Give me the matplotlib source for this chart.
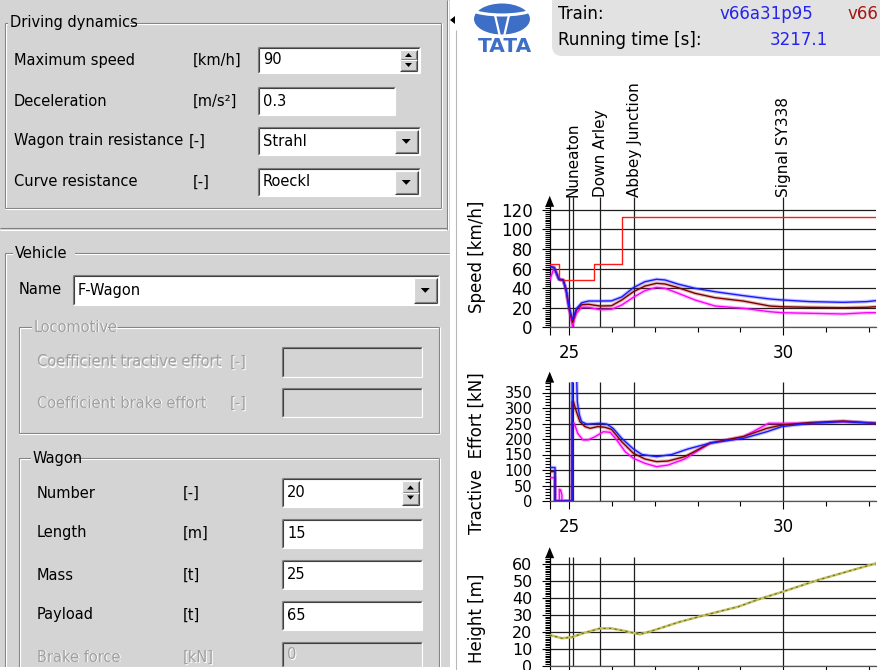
import matplotlib
matplotlib.use('Agg')
import matplotlib.pyplot as plt
from matplotlib.patches import Rectangle, Polygon, Ellipse, Arc, FancyBboxPatch
from matplotlib.ticker import MultipleLocator

plt.rcParams['font.family'] = ['DejaVu Sans']

W, H = 880, 670
GRAY = '#d4d4d4'
DARK = '#808080'
DIS = '#a0a0a0'

# route / stations [km]
stations_km = [25.0, 25.08, 25.71, 26.51, 30.0]
station_names = ['Nuneaton', 'Down Arley', 'Abbey Junction', 'Signal SY338']
station_name_km = [25.09, 25.73, 26.53, 30.0]
XMIN, XMAX = 24.545, 32.17

# speed [km/h]
limit_km = [24.545, 24.76, 25.58, 26.24, 32.17]
limit_kmh = [64.4, 48.3, 64.4, 112.7, 112.7]

speed_km = [24.545, 24.65, 24.76, 24.86, 24.93, 25.00, 25.08, 25.12, 25.17, 25.29,
            25.45, 25.72, 25.99, 26.23, 26.50, 26.77, 27.04, 27.24, 27.55, 27.94,
            28.41, 29.07, 29.69, 29.97, 30.63, 31.40, 31.95, 32.17]
speed_blue = [62.5, 60.8, 49.0, 48.3, 38, 20, 8, 13, 19, 25.0,
              26.8, 26.8, 27.0, 31.0, 40.4, 46.5, 49.0, 48.3, 44.0, 39.8,
              36.3, 32.3, 28.9, 27.9, 26.2, 25.5, 26.2, 27.2]
speed_brown = [62.5, 60.8, 49.0, 48.3, 38, 19, 5, 11, 17.7, 23.0,
               23.5, 21.7, 22.0, 27.9, 36.3, 42.1, 44.9, 44.2, 40.4, 34.7,
               30.2, 26.8, 21.7, 21.0, 20.4, 20.0, 20.4, 21.0]
speed_magenta = [48.0, 61.0, 49.0, 48.3, 37, 18, 0, 8, 14.3, 20.4,
                 20.4, 18.0, 18.4, 22.8, 30.6, 37.4, 40.8, 39.8, 34.7, 27.9,
                 21.7, 19.4, 15.9, 14.9, 14.3, 13.6, 14.9, 14.9]

# tractive effort [kN]
te_blue_km = [24.545, 24.67, 24.67, 25.07, 25.07, 25.175, 25.19, 25.24, 25.29, 25.41,
              25.72, 25.88, 26.03, 26.23, 26.50, 26.70, 27.04, 27.40, 27.78, 28.30,
              29.07, 29.62, 29.97, 30.63, 31.40, 32.17]
te_blue = [108, 108, 0, 0, 400, 400, 320, 277, 256, 248,
           250.6, 248, 234, 202, 168, 150, 143, 150, 168, 187,
           202, 223.5, 240, 250.6, 256, 250.6]
te_brown_km = [24.545, 24.67, 24.67, 25.07, 25.07, 25.10, 25.17, 25.25, 25.37, 25.49,
               25.67, 25.83, 25.99, 26.23, 26.50, 26.77, 27.04, 27.31, 27.70, 28.30,
               29.07, 29.62, 29.97, 30.63, 31.40, 32.17]
te_brown = [95, 95, 0, 0, 320, 320, 288, 256, 240, 234.5,
            240, 238, 231, 191, 154, 135.5, 127, 129, 143, 187,
            208, 234.5, 245, 253, 258, 250.6]
te_magenta_km = [24.545, 24.67, 24.67, 24.77, 24.77, 24.79, 24.80, 24.83, 24.83, 25.07,
                 25.07, 25.12, 25.20, 25.32, 25.44, 25.60, 25.80, 25.96, 26.11, 26.31,
                 26.50, 26.77, 27.04, 27.31, 27.70, 28.30, 29.07, 29.66, 29.97, 30.63,
                 31.40, 32.17]
te_magenta = [75, 75, 0, 0, 38, 32, 36, 20, 0, 0,
              250.6, 250.6, 218, 197, 197, 207, 223.5, 221.6, 197, 159,
              137.7, 121.6, 110.8, 116, 135.5, 187, 207, 250.6, 250.6, 250.6,
              256, 250.6]

# height [m]
height_km = [24.545, 24.83, 25.06, 25.37, 25.72, 25.99, 26.30, 26.65, 26.93, 27.55,
             28.18, 28.95, 29.50, 30.00, 30.82, 32.17]
height_m = [18.1, 16.2, 16.8, 19.5, 22.0, 22.0, 20.5, 18.5, 20.5, 25.6,
            29.9, 34.8, 39.8, 43.7, 50.6, 60.4]

# input form
dyn_labels = ['Maximum speed', 'Deceleration', 'Wagon train resistance', 'Curve resistance']
dyn_units = ['[km/h]', '[m/s²]', '[-]', '[-]']
dyn_values = ['90', '0.3', 'Strahl', 'Roeckl']
dyn_kinds = ['spin', 'edit', 'combo', 'combo']
loco_labels = ['Coefficient tractive effort', 'Coefficient brake effort']
loco_units = ['[-]', '[-]']
wagon_labels = ['Number', 'Length', 'Mass', 'Payload', 'Brake force']
wagon_units = ['[-]', '[m]', '[t]', '[t]', '[kN]']
wagon_values = ['20', '15', '25', '65', '0']
wagon_kinds = ['spin', 'edit', 'edit', 'edit', 'disabled']

train_name = 'v66a31p95'
train_name2 = 'v66'
running_time = '3217.1'

fig = plt.figure(figsize=(W / 100, H / 100), dpi=100)
gui = fig.add_axes([0, 0, 1, 1])
gui.set_xlim(0, W)
gui.set_ylim(H, 0)
gui.axis('off')

FS = 10.5


def hline(x0, x1, y, c, lw=0.8):
    gui.plot([x0, x1], [y, y], color=c, lw=lw, solid_capstyle='butt')


def vline(x, y0, y1, c, lw=0.8):
    gui.plot([x, x], [y0, y1], color=c, lw=lw, solid_capstyle='butt')


def label(x, y, s, disabled=False, **kw):
    if disabled:
        gui.text(x + 1, y + 1, s, color='white', fontsize=FS, va='center', **kw)
        gui.text(x, y, s, color=DIS, fontsize=FS, va='center', **kw)
    else:
        gui.text(x, y, s, color='black', fontsize=FS, va='center', **kw)


def raised(x0, y0, x1, y1):
    gui.add_patch(Rectangle((x0, y0), x1 - x0, y1 - y0, fc=GRAY, ec='none'))
    hline(x0, x1, y0, 'white')
    vline(x0, y0, y1, 'white')
    hline(x0, x1, y1, '#404040')
    vline(x1, y0, y1, '#404040')
    hline(x0 + 1, x1 - 1, y1 - 1, DARK)
    vline(x1 - 1, y0 + 1, y1 - 1, DARK)


def field(x0, y0, x1, y1, text='', kind='edit'):
    dis = kind == 'disabled' or kind == 'empty'
    gui.add_patch(Rectangle((x0, y0), x1 - x0, y1 - y0, fc=GRAY if dis else 'white', ec='none'))
    hline(x0, x1, y0, DARK)
    vline(x0, y0, y1, DARK)
    hline(x0 + 1.2, x1 - 1.2, y0 + 1.2, '#404040')
    vline(x0 + 1.2, y0 + 1.2, y1 - 1.2, '#404040')
    hline(x0, x1, y1, 'white')
    vline(x1, y0, y1, 'white')
    if text:
        label(x0 + 5, (y0 + y1) / 2, text, disabled=dis)
    cy = (y0 + y1) / 2
    if kind == 'spin':
        bx0, bx1 = x1 - 20, x1 - 3
        raised(bx0, y0 + 2.5, bx1, cy)
        raised(bx0, cy, bx1, y1 - 2.5)
        cx = (bx0 + bx1) / 2
        gui.add_patch(Polygon([[cx - 3.5, cy - 3], [cx + 3.5, cy - 3], [cx, cy - 7]], fc='black'))
        gui.add_patch(Polygon([[cx - 3.5, cy + 3], [cx + 3.5, cy + 3], [cx, cy + 7]], fc='black'))
    elif kind == 'combo':
        bx0, bx1 = x1 - 25, x1 - 2.5
        raised(bx0, y0 + 2.5, bx1, y1 - 2.5)
        cx = (bx0 + bx1) / 2
        gui.add_patch(Polygon([[cx - 4.5, cy - 2], [cx + 4.5, cy - 2], [cx, cy + 2.8]], fc='black'))


def group(x0, y0, x1, y1, title, tx, disabled=False, bottom=True):
    hline(x0, x1, y0, DARK)
    hline(x0 + 1, x1, y0 + 1, 'white')
    vline(x0, y0, y1, DARK)
    vline(x0 + 1, y0 + 1, y1, 'white')
    vline(x1, y0, y1, DARK)
    vline(x1 + 1, y0, y1, 'white')
    if bottom:
        hline(x0, x1, y1, DARK)
        hline(x0, x1 + 1, y1 + 1, 'white')
    gui.add_patch(Rectangle((tx - 2, y0 - 3), len(title) * 7.6, 6, fc=GRAY, ec='none', zorder=3))
    if disabled:
        gui.text(tx + 1, y0 + 1, title, color='white', fontsize=FS, va='center', zorder=4)
        gui.text(tx, y0, title, color=DIS, fontsize=FS, va='center', zorder=4)
    else:
        gui.text(tx, y0, title, color='black', fontsize=FS, va='center', zorder=4)


# left panel
gui.add_patch(Rectangle((0, 0), 450, 667, fc=GRAY, ec='none'))
vline(447, 0, 230, DARK)
vline(448, 0, 230, 'white')
group(5, 23, 441, 208, 'Driving dynamics', 10)
hline(0, 447, 228, DARK)
hline(0, 447, 229.5, 'white')

dyn_y = [60, 101, 141, 182]
dyn_boxes = [(258, 47, 420, 73), (258, 87, 395, 115), (258, 127, 420, 155), (258, 168, 420, 196)]
dyn_unit_x = [193, 193, 189, 193]
for lab, unit, val, kind, y, box, ux in zip(dyn_labels, dyn_units, dyn_values, dyn_kinds,
                                          dyn_y, dyn_boxes, dyn_unit_x):
    label(14, y, lab)
    label(ux, y, unit)
    field(*box, text=val, kind=kind)

# vehicle group
hline(5, 449, 253, DARK)
hline(6, 449, 254, 'white')
vline(5, 253, 667, DARK)
vline(6, 254, 667, 'white')
gui.add_patch(Rectangle((13, 246), 62, 14, fc=GRAY, ec='none', zorder=3))
gui.text(15, 253, 'Vehicle', fontsize=FS, va='center', zorder=4)
label(19, 290, 'Name')
field(73, 275, 439, 305, text='F-Wagon', kind='combo')

group(19, 327, 439, 433, 'Locomotive', 34, disabled=True)
for lab, unit, y, (y0, y1) in zip(loco_labels, loco_units, [362, 403], [(347, 377), (388, 417)]):
    label(37, y, lab, disabled=True)
    label(230, y, unit, disabled=True)
    field(282, y0, 422, y1, kind='empty')

group(19, 458, 439, 667, 'Wagon', 33, bottom=False)
wagon_y = [493, 533, 575, 615, 657]
wagon_boxes = [(478, 507), (519, 548), (560, 589), (601, 630), (642, 667)]
for lab, unit, val, kind, y, (y0, y1) in zip(wagon_labels, wagon_units, wagon_values,
                                            wagon_kinds, wagon_y, wagon_boxes):
    dis = kind == 'disabled'
    label(37, y, lab, disabled=dis)
    label(183, y, unit, disabled=dis)
    field(282, y0, 422, y1, text=val, kind=kind)
gui.add_patch(Rectangle((0, 667), 452, 5, fc='white', ec='none', zorder=5))

# divider
vline(456, 30, 670, '#b8b8b8')
gui.add_patch(Polygon([[450, 20], [455, 16], [455, 24]], fc='black'))

# TATA logo
BLUE = '#3d6fc6'
gui.add_patch(Ellipse((502, 19), 56, 31, fc=BLUE, ec='none'))
gui.add_patch(Arc((502, 1), 84, 28, theta1=15, theta2=165, color='white', lw=2.2))
gui.plot([495, 499.6], [15, 35], color='white', lw=1.6)
gui.plot([509, 504.4], [15, 35], color='white', lw=1.6)
gui.text(505, 47, 'TATA', color=BLUE, fontsize=14.5, fontweight='bold', ha='center', va='center')

# info box
gui.add_patch(FancyBboxPatch((552, -20), 400, 76, boxstyle='round,pad=0,rounding_size=10',
                             fc='#e2e2e2', ec='none'))
gui.text(558, 14, 'Train:', fontsize=12, va='center')
gui.text(558, 40, 'Running time [s]:', fontsize=12, va='center')
gui.text(720, 14, train_name, fontsize=12, va='center', color='#2424ee')
gui.text(847, 14, train_name2, fontsize=12, va='center', color='#a51515')
gui.text(828, 40, running_time, fontsize=12, va='center', ha='right', color='#2424ee')


def box(left, top, right, bottom):
    return [left / W, 1 - bottom / H, (right - left) / W, (bottom - top) / H]


def chart(pos, ytop, major, minor, ylab, ylab_y, line_top, ysize=12, xlabels=True):
    ax = fig.add_axes(pos)
    ax.set_facecolor('none')
    ax.set_xlim(XMIN, XMAX)
    ax.set_ylim(0, ytop)
    for s in ['top', 'right']:
        ax.spines[s].set_visible(False)
    ax.spines['left'].set_color('black')
    ax.spines['left'].set_linewidth(0.9)
    ax.spines['bottom'].set_color('#555555')
    ax.spines['bottom'].set_linewidth(0.9)
    ax.yaxis.set_major_locator(MultipleLocator(major))
    ax.yaxis.set_minor_locator(MultipleLocator(minor))
    ax.set_xticks([XMIN, 25, 30])
    ax.set_xticklabels(['', '25', '30'] if xlabels else ['', '', ''])
    ax.set_xticks([26, 27, 28, 29, 31, 32], minor=True)
    ax.tick_params(which='major', length=5.8, width=0.8, labelsize=12)
    ax.tick_params(which='minor', length=3.6, width=0.8)
    ax.tick_params(axis='y', which='major', pad=6.5, labelsize=ysize)
    ax.tick_params(axis='x', which='major', pad=6.5)
    ax.grid(axis='y', which='major', color='#1e1e1e', lw=0.9)
    ax.set_axisbelow(True)
    ax.vlines(stations_km, 0, line_top, color='#1e1e1e', lw=0.9, clip_on=False, zorder=1)
    fig.text(477 / W, 1 - ylab_y / H, ylab, rotation=90, ha='center', va='center', fontsize=12)
    p = ax.get_position()
    x, yt = p.x0 * W, (1 - p.y1) * H
    gui.add_patch(Polygon([[x - 4.5, yt + 1], [x + 4.5, yt + 1], [x, yt - 10]], fc='black'))
    return ax


def curve(ax, x, y, c):
    ax.plot(x, y, color=c, lw=2.6, alpha=0.25, zorder=3)
    ax.plot(x, y, color=c, lw=1.0, zorder=4)


# speed
ax1 = chart(box(549.7, 205.8, 876, 327.3), 124, 20, 2, 'Speed [km/h]', 257, 133)
ax1.step(limit_km, limit_kmh, where='post', color='#ff1a1a', lw=1.0, zorder=4)
curve(ax1, speed_km, speed_magenta, '#ff00ff')
curve(ax1, speed_km, speed_brown, '#800000')
curve(ax1, speed_km, speed_blue, '#1a1aff')
for km, name in zip(station_name_km, station_names):
    ax1.text(km, 133, name, rotation=90, ha='center', va='bottom', fontsize=11, clip_on=False)

# tractive effort
ax2 = chart(box(549.7, 381.65, 876, 501), 385, 50, 10, 'Tractive  Effort [kN]', 453, 385,
            ysize=10.5)
curve(ax2, te_magenta_km, te_magenta, '#ff00ff')
curve(ax2, te_brown_km, te_brown, '#800000')
curve(ax2, te_blue_km, te_blue, '#1a1aff')

# height
ax3 = chart(box(549.7, 557.2, 876, 665.7), 64, 10, 1, 'Height [m]', 618, 64,
            ysize=11.5, xlabels=False)
ax3.plot(height_km, height_m, color='#c2c060', lw=1.8, zorder=3)
ax3.plot(height_km, height_m, color='#6e6c18', lw=0.8, dashes=(2, 3), zorder=4)

fig.savefig('out.png', dpi=100)
